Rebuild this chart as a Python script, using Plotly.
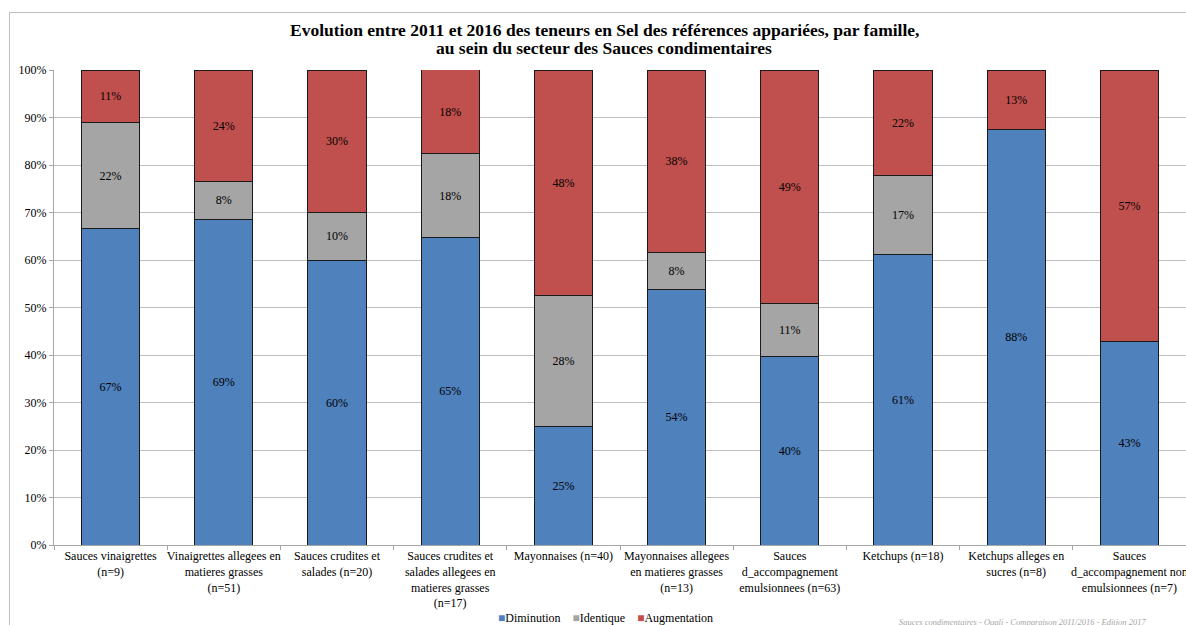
import math
import plotly.graph_objects as go

categories = [
    "Sauces vinaigrettes<br>(n=9)",
    "Vinaigrettes allegees en<br>matieres grasses<br>(n=51)",
    "Sauces crudites et<br>salades (n=20)",
    "Sauces crudites et<br>salades allegees en<br>matieres grasses<br>(n=17)",
    "Mayonnaises (n=40)",
    "Mayonnaises allegees<br>en matieres grasses<br>(n=13)",
    "Sauces<br>d_accompagnement<br>emulsionnees (n=63)",
    "Ketchups (n=18)",
    "Ketchups alleges en<br>sucres (n=8)",
    "Sauces<br>d_accompagnement non<br>emulsionnees (n=7)",
]
diminution = [66.67, 68.63, 60.0, 64.71, 25.0, 53.85, 39.68, 61.11, 87.5, 42.86]
identique = [22.22, 7.84, 10.0, 17.65, 27.5, 7.69, 11.11, 16.67, 0.0, 0.0]
augmentation = [11.11, 23.53, 30.0, 17.65, 47.5, 38.46, 49.21, 22.22, 12.5, 57.14]
tick_vals = [0, 10, 20, 30, 40, 50, 60, 70, 80, 90, 100]
tick_text = [f"{v}%" for v in tick_vals]
title_lines = [
    "Evolution entre 2011 et 2016 des teneurs en Sel des références appariées, par famille,",
    "au sein du secteur des Sauces condimentaires",
]
footer = "Sauces condimentaires - Oqali - Comparaison 2011/2016 - Edition 2017"

series = [
    ("Diminution", diminution, "#4F81BD"),
    ("Identique", identique, "#A5A5A5"),
    ("Augmentation", augmentation, "#C0504D"),
]

FONT = "Liberation Serif"
fig = go.Figure()
for name, vals, color in series:
    fig.add_trace(go.Bar(
        x=categories, y=vals, name=name,
        marker=dict(color=color, line=dict(color="#1a1a1a", width=1)),
        text=[f"{int(math.floor(v + 0.5))}%" if v > 0 else "" for v in vals],
        textposition="inside", insidetextanchor="middle",
        textfont=dict(family=FONT, size=12, color="#000000"),
        width=0.515,
        hoverinfo="skip",
        showlegend=False,
    ))

W, H = 1186, 625
L, R, T, B = 54, 0, 70, 80
pw, ph = W - L - R, H - T - B

def px(x):
    return (x - L) / pw

def py(y):
    return (H - B - y) / ph

legend_text = "&nbsp;&nbsp;&nbsp;&nbsp;".join(
    f"<span style='color:{c}'>■</span>{n}" for n, _, c in series
)

annotations = [
    dict(
        text=f"<b>{line}</b>", xref="paper", yref="paper", x=px(604), y=py(yy),
        xanchor="center", yanchor="middle", showarrow=False,
        font=dict(family=FONT, size=17.5, color="#000000"),
    )
    for line, yy in zip(title_lines, [30, 48])
]
annotations += [
    dict(
        text=legend_text,
        xref="paper", yref="paper", x=px(605), y=py(618), xanchor="center", yanchor="middle",
        showarrow=False, font=dict(family=FONT, size=12, color="#000000"),
    ),
    dict(
        text=f"<i>{footer}</i>",
        xref="paper", yref="paper", x=px(1148), y=py(622), xanchor="right", yanchor="middle",
        showarrow=False, font=dict(family=FONT, size=8.5, color="#a6a6a6"),
    ),
]

fig.update_layout(
    width=W, height=H,
    barmode="stack",
    bargap=0.485,
    margin=dict(l=L, r=R, t=T, b=B, autoexpand=False),
    paper_bgcolor="white", plot_bgcolor="white",
    font=dict(family=FONT, size=12, color="#000000"),
    showlegend=False,
    xaxis=dict(
        type="category", tickson="boundaries", ticks="outside", ticklen=4,
        tickcolor="#a6a6a6", showline=True, linecolor="#a6a6a6", linewidth=1,
        showgrid=False, tickfont=dict(family=FONT, size=12), tickangle=0,
        range=[-0.5, 9.5], automargin=False,
    ),
    yaxis=dict(
        range=[0, 100], tickvals=tick_vals, ticktext=tick_text,
        ticks="outside", ticklen=4, tickcolor="#a6a6a6",
        showline=True, linecolor="#a6a6a6", linewidth=1,
        showgrid=True, gridcolor="#bfbfbf", gridwidth=1,
        tickfont=dict(family=FONT, size=12), zeroline=False, automargin=False,
    ),
    shapes=[dict(
        type="rect", xref="paper", yref="paper",
        x0=px(9.5), x1=px(1200), y0=py(640), y1=py(12.5),
        line=dict(color="#bfbfbf", width=1), fillcolor="rgba(0,0,0,0)", layer="below",
    )],
    annotations=annotations,
)

fig.write_html(
    "out.html",
    config={"displayModeBar": False},
    post_script="document.body.style.margin='0';document.body.style.overflow='hidden';",
)
